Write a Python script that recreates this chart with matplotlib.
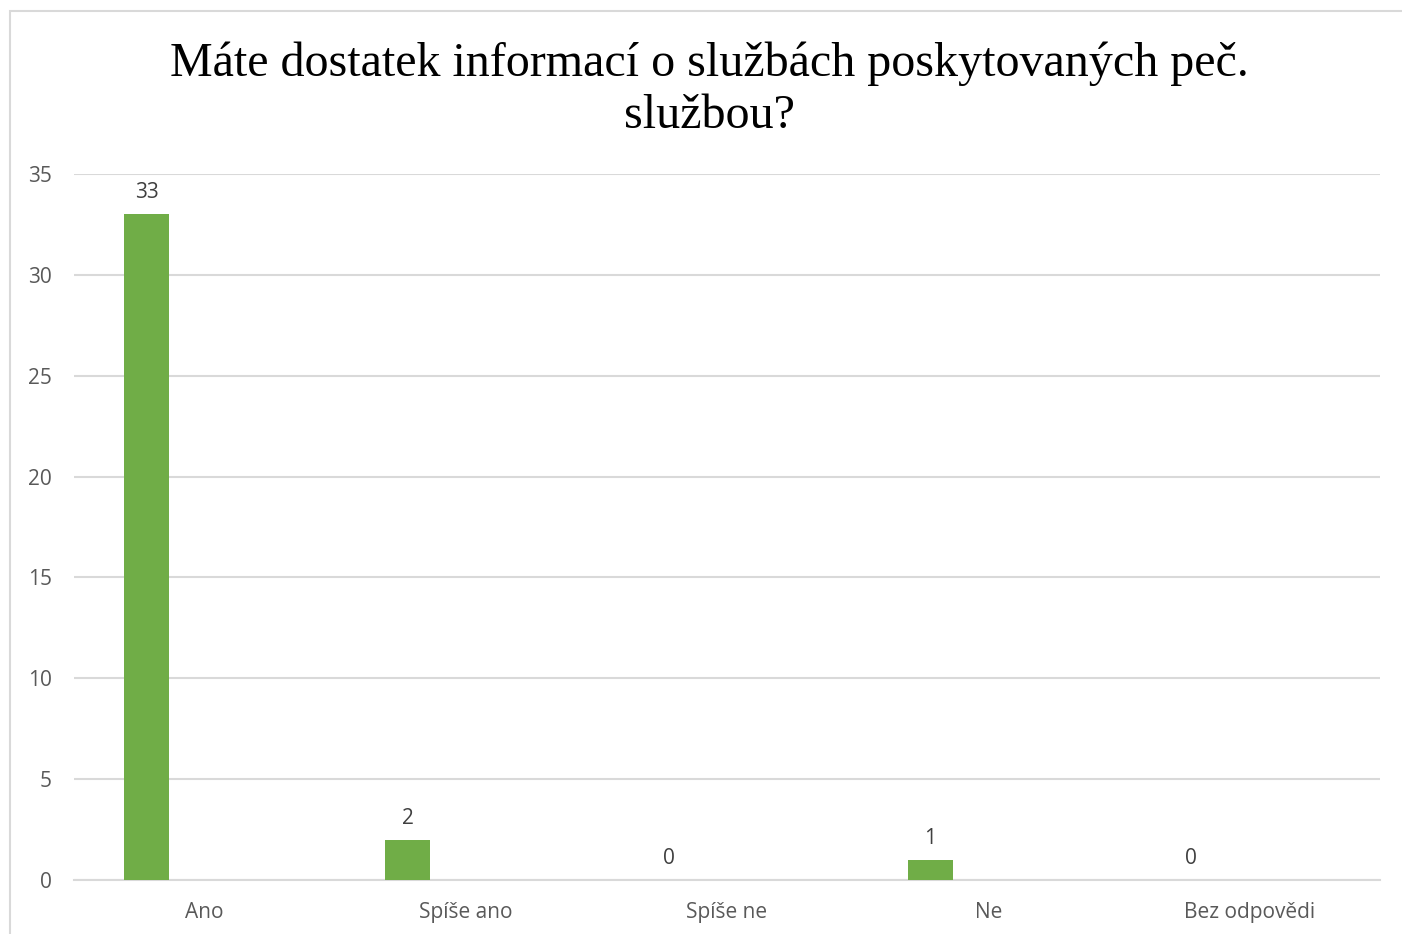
import matplotlib.pyplot as plt
from matplotlib.patches import Rectangle
import numpy as np

# data
categories = ['Ano', 'Spíše ano', 'Spíše ne', 'Ne', 'Bez odpovědi']
counts = [33, 2, 0, 1, 0]
title = 'Máte dostatek informací o službách poskytovaných peč.\nslužbou?'

fig = plt.figure(figsize=(14.02, 9.34), dpi=100)
ax = fig.add_axes([74 / 1402, 1 - 880 / 934, 1306 / 1402, 706 / 934])

# outer chart border (cut off at right/bottom like the original)
fig.patches.append(Rectangle((10 / 1402, -0.01), 1.1, 1 - 11 / 934 + 0.01,
                             transform=fig.transFigure, fill=False,
                             edgecolor='#d9d9d9', linewidth=1.5))

x = np.arange(len(categories))
offset = -0.222
bars = ax.bar(x + offset, counts, width=0.172, color='#70ad47', zorder=3)

for xi, v in zip(x, counts):
    ax.annotate(str(v), (xi + offset, v), xytext=(0, 8), textcoords='offset points',
                ha='center', va='bottom', fontsize=15, color='#404040',
                family='Open Sans')

ax.set_xlim(-0.5, len(categories) - 0.5)
ax.set_ylim(0, 35)
ax.set_yticks(range(0, 36, 5))
ax.set_xticks(x)
ax.set_xticklabels(categories)
ax.yaxis.grid(True, color='#d9d9d9', linewidth=1.5, zorder=0)
ax.set_axisbelow(True)
for s in ['top', 'right', 'left']:
    ax.spines[s].set_visible(False)
ax.spines['bottom'].set_color('#d9d9d9')
ax.spines['bottom'].set_linewidth(1.5)
ax.tick_params(length=0, labelcolor='#595959', labelsize=15)
ax.tick_params(axis='x', pad=16)
ax.tick_params(axis='y', pad=16)
for lab in ax.get_xticklabels() + ax.get_yticklabels():
    lab.set_family('Open Sans')

fig.text(709 / 1402, 1 - 42 / 934, title, ha='center', va='top',
         fontsize=34.6, family='Liberation Serif', linespacing=1.21)

fig.savefig('out.png', dpi=100)
